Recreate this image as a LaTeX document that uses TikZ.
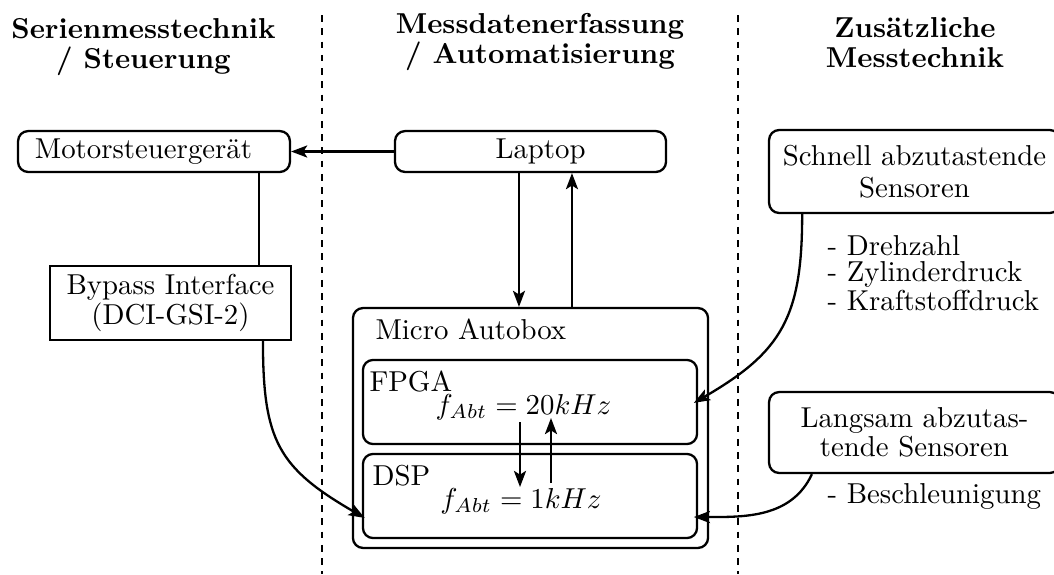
\documentclass[tikz,border=0pt]{standalone}
\usepackage{fontspec}
\usetikzlibrary{arrows.meta,calc}
\begin{document}
\begin{tikzpicture}[
  x=0.34722pt, y=-0.34722pt,
  every node/.style={inner sep=0pt, font=\fontsize{10}{10.4}\selectfont},
  line/.style={line width=0.8pt},
  arr/.style={line width=0.8pt, -{Stealth[length=5.6pt,width=4.2pt,inset=1.3pt]}},
  rbox/.style={draw, line width=0.8pt, rounded corners=3.5pt},
  sbox/.style={draw, line width=0.8pt},
  head/.style={font=\bfseries\fontsize{10}{10.5}\selectfont, align=center, anchor=north},
  sepline/.style={line width=0.75pt, dash pattern=on 2.3pt off 2.3pt},
]
\useasboundingbox (0,0) rectangle (1054,574);

% column separators
\draw[sepline] (322,15) -- (322,574);
\draw[sepline] (738,15) -- (738,574);

% column headings
\node[head] (h1) at (143.5,18) {Serienmesstechnik\\/ Steuerung};
\node[head] (h2) at (540,13) {Messdatenerfassung\\/ Automatisierung};
\node[head] (h3) at (915,17) {Zusätzliche\\Messtechnik};

% blocks
\node[rbox, minimum width=94.4pt, minimum height=14.2pt] (mot) at (154,151.5) {Motorsteuergerät\hspace*{7.3pt}};
\node[rbox, minimum width=94.1pt, minimum height=14.2pt] (lap) at (530.5,151.5) {\hspace*{7pt}Laptop};
\node[sbox, minimum width=83.7pt, minimum height=25.7pt, align=center] (byp) at (170.5,303) {Bypass Interface\\(DCI-GSI-2)};
\node[rbox, minimum width=123.3pt, minimum height=83.3pt] (mab) at (530.5,428) {};
\node[rbox, minimum width=116pt, minimum height=29.2pt] (fpga) at (530,402) {};
\node[rbox, minimum width=116pt, minimum height=29.2pt] (dsp) at (530,496) {};
\node[rbox, minimum width=101pt, minimum height=28.8pt, align=center, font=\fontsize{10}{11.1}\selectfont] (fast) at (914.5,171.5) {Schnell abzutastende\\Sensoren};
\node[rbox, minimum width=101pt, minimum height=28.1pt, align=center, font=\fontsize{10}{8.7}\selectfont] (slow) at (914.5,432.5) {Langsam abzutas-\\tende Sensoren};

% labels inside the Micro Autobox
\node[anchor=base west] (mabl) at (375,339) {Micro Autobox};
\node[anchor=base west] (fpgal) at (369,391) {FPGA};
\node[anchor=base] (fpgaf) at (523.5,414) {$f_{Abt} = 20kHz$};
\node[anchor=base west] (dspl) at (372,485) {DSP};
\node[anchor=base] (dspf) at (521,508) {$f_{Abt} = 1kHz$};

% sensor lists
\node[anchor=north west, align=left, font=\fontsize{10}{8.9}\selectfont] (fastl) at (827,235) {- Drehzahl\\- Zylinderdruck\\- Kraftstoffdruck};
\node[anchor=base west] (slowl) at (827,503) {- Beschleunigung};

% connections
\draw[arr] (lap.west) -- (mot.east);
\draw[arr] ([xshift=-4pt]lap.south) -- ([xshift=-4pt]mab.north);
\draw[arr] ([xshift=14.4pt]mab.north) -- ([xshift=14.4pt]lap.south);
\draw[line] ([xshift=36.5pt]mot.south) coordinate (m1) -- (m1 |- byp.north);
\draw[arr] ([xshift=32.1pt]byp.south) to[out=-90, in=150, looseness=1.25] ([xshift=1pt,yshift=-7.6pt]dsp.west);
\draw[arr] ([xshift=-39pt]fast.south) to[out=-90, in=30, looseness=1.2] ([xshift=-1.5pt,yshift=-0.3pt]fpga.east);
\draw[arr] ([xshift=-35.6pt]slow.south) to[out=-115, in=0] ([xshift=-1.5pt,yshift=-7.3pt]dsp.east);
\draw[arr] ($(fpga.center)+(-10,20)$) -- ($(dsp.center)+(-10,-9)$);
\draw[arr] ($(dsp.center)+(21,-13)$) -- ($(fpga.center)+(21,16)$);
\end{tikzpicture}
\end{document}
